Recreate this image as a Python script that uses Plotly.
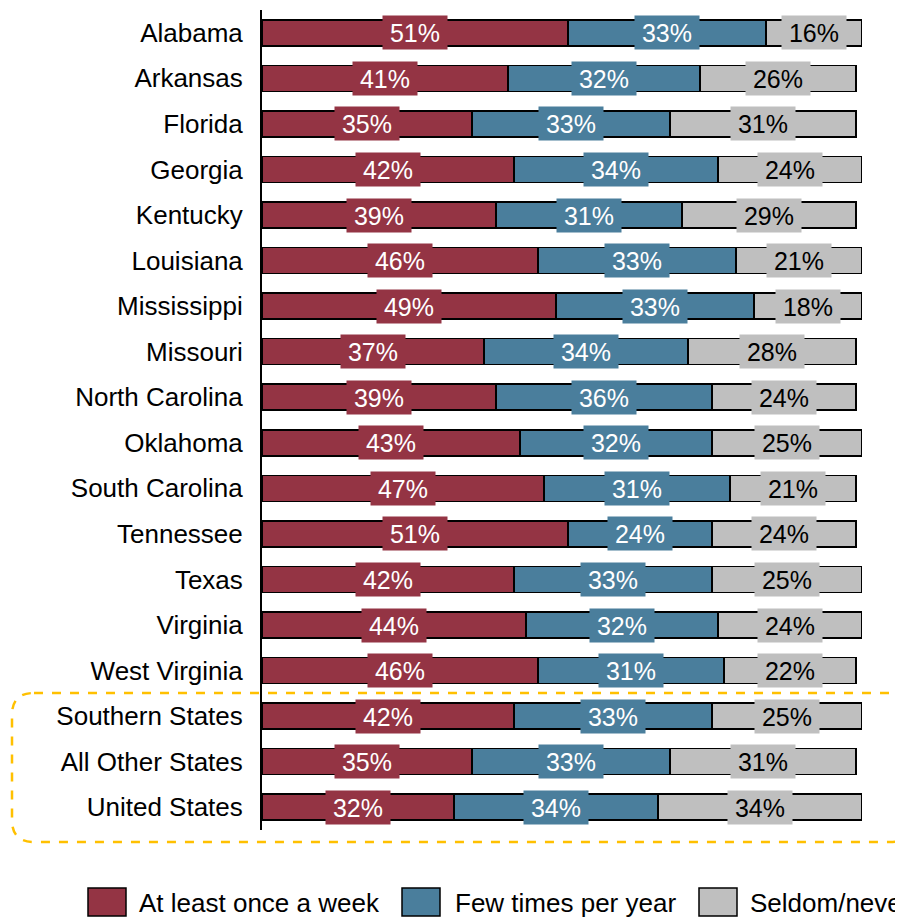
import plotly.graph_objects as go

categories = ["Alabama", "Arkansas", "Florida", "Georgia", "Kentucky", "Louisiana",
              "Mississippi", "Missouri", "North Carolina", "Oklahoma", "South Carolina",
              "Tennessee", "Texas", "Virginia", "West Virginia", "Southern States",
              "All Other States", "United States"]
weekly = [51, 41, 35, 42, 39, 46, 49, 37, 39, 43, 47, 51, 42, 44, 46, 42, 35, 32]
few_times = [33, 32, 33, 34, 31, 33, 33, 34, 36, 32, 31, 24, 33, 32, 31, 33, 33, 34]
seldom = [16, 26, 31, 24, 29, 21, 18, 28, 24, 25, 21, 24, 25, 24, 22, 25, 31, 34]
series_names = ["At least once a week", "Few times per year", "Seldom/never"]
series_values = [weekly, few_times, seldom]
colors = ["#943444", "#4A7E9C", "#BFBFBF"]
text_colors = ["white", "white", "black"]

FONT = "Liberation Sans, Arial, sans-serif"
OFF = 8  # page body margin offset
W, H = 903 - OFF, 918 - OFF
ML, MT = 262 - OFF, 10 - OFF
PW, PH = 600, 820
MR, MB = W - ML - PW, H - MT - PH


def px_x(p):
    return (p - OFF - ML) / PW


def px_y(p):
    return (MT + PH - (p - OFF)) / PH


fig = go.Figure()
for name, vals, col in zip(series_names, series_values, colors):
    fig.add_trace(go.Bar(
        y=categories, x=vals, name=name, orientation="h",
        marker=dict(color=col, line=dict(color="black", width=1.5)),
        width=0.57, showlegend=False, hoverinfo="x+y+name"))

annotations = []
for i, cat in enumerate(categories):
    cum = 0
    for s, vals in enumerate(series_values):
        v = vals[i]
        annotations.append(dict(
            x=cum + v / 2, y=cat, xref="x", yref="y", text=f"{v}%",
            showarrow=False, bgcolor=colors[s], width=62, height=31,
            font=dict(family=FONT, size=25, color=text_colors[s])))
        cum += v

# legend (manual, large swatches)
swatch_x = [88, 402, 699]
text_x = [137, 453, 748]
shapes = []
for s in range(3):
    shapes.append(dict(type="rect", xref="paper", yref="paper",
                       x0=px_x(swatch_x[s]), x1=px_x(swatch_x[s] + 38),
                       y0=px_y(888), y1=px_y(916),
                       fillcolor=colors[s], line=dict(color="black", width=1.5)))
    annotations.append(dict(x=px_x(text_x[s]), y=px_y(903), xref="paper", yref="paper",
                            text=series_names[s], showarrow=False, xanchor="left",
                            yanchor="middle",
                            font=dict(family=FONT, size=26, color="black")))

# dashed rounded rectangle around summary rows
L, R, T, B, r = 12, 912, 693, 842, 22
path = (f"M {px_x(L + r)},{px_y(T)} L {px_x(R - r)},{px_y(T)} "
        f"Q {px_x(R)},{px_y(T)} {px_x(R)},{px_y(T + r)} "
        f"L {px_x(R)},{px_y(B - r)} Q {px_x(R)},{px_y(B)} {px_x(R - r)},{px_y(B)} "
        f"L {px_x(L + r)},{px_y(B)} Q {px_x(L)},{px_y(B)} {px_x(L)},{px_y(B - r)} "
        f"L {px_x(L)},{px_y(T + r)} Q {px_x(L)},{px_y(T)} {px_x(L + r)},{px_y(T)} Z")
shapes.append(dict(type="path", xref="paper", yref="paper", path=path,
                   line=dict(color="#FFC000", width=2.5, dash="dash")))

fig.update_layout(
    width=W, height=H, barmode="stack",
    margin=dict(l=ML, r=MR, t=MT, b=MB, pad=0),
    paper_bgcolor="white", plot_bgcolor="white",
    font=dict(family=FONT, size=26, color="black"),
    xaxis=dict(range=[0, 100], visible=False, fixedrange=True),
    yaxis=dict(type="category", categoryorder="array", categoryarray=categories,
               range=[len(categories) - 0.5, -0.5], showline=True, linecolor="black",
               linewidth=2, ticks="", showgrid=False, zeroline=False,
               tickfont=dict(family=FONT, size=26, color="black"),
               ticklabelstandoff=12),
    annotations=annotations, shapes=shapes, showlegend=False,
)
fig.write_html("out.html")
